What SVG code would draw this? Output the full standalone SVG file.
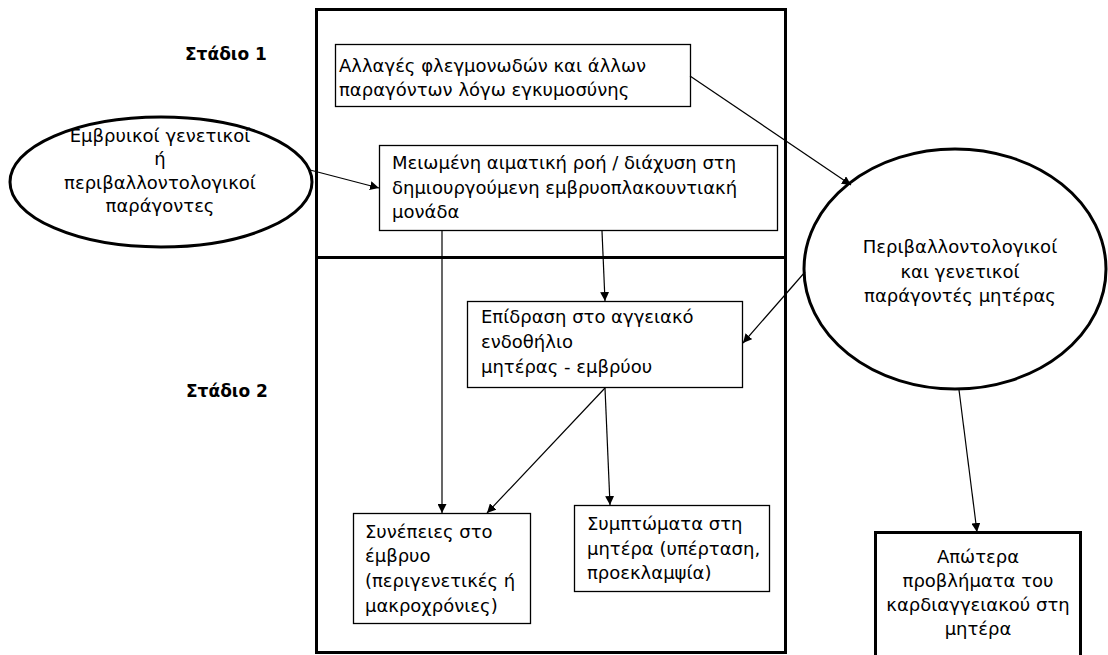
<svg xmlns="http://www.w3.org/2000/svg" width="1108" height="655" viewBox="0 0 1108 655">
<style>
text{font-family:"DejaVu Sans","Noto Sans",sans-serif;font-size:18px;fill:#000}
.b{font-weight:bold;font-size:17px}
.c{text-anchor:middle}
.box{fill:#fff;stroke:#000;stroke-width:1.3}
.thick{fill:#fff;stroke:#000;stroke-width:3}
.frame{fill:none;stroke:#000;stroke-width:3}
.conn line{stroke:#000;stroke-width:1.2;marker-end:url(#ah)}
</style>
<defs>
<marker id="ah" viewBox="0 0 10 10" refX="10" refY="5" markerWidth="9" markerHeight="9" markerUnits="userSpaceOnUse" orient="auto">
<path d="M0,0 L10,5 L0,10 z" fill="#000"/>
</marker>
</defs>
<rect width="1108" height="655" fill="#fff"/>
<g id="frame">
<rect class="frame" x="316.5" y="9.5" width="469" height="643"/>
<line class="frame" x1="316.5" y1="257.5" x2="785.5" y2="257.5"/>
</g>
<g id="labels">
<text class="b" x="185" y="60">Στάδιο 1</text>
<text class="b" x="186" y="397">Στάδιο 2</text>
</g>
<g id="n-fetal-factors">
<ellipse cx="161" cy="182" rx="151" ry="65" fill="#fff" stroke="#000" stroke-width="3"/>
<text class="c" x="160" y="142">Εμβρυικοί γενετικοί</text>
<text class="c" x="160" y="165">ή</text>
<text class="c" x="160" y="189">περιβαλλοντολογικοί</text>
<text class="c" x="160" y="212">παράγοντες</text>
</g>
<g id="n-changes">
<rect class="box" x="335.5" y="44.5" width="355" height="62"/>
<text x="339" y="72">Αλλαγές φλεγμονωδών και άλλων</text>
<text x="339" y="96">παραγόντων λόγω εγκυμοσύνης</text>
</g>
<g id="n-flow">
<rect class="box" x="379.5" y="145.5" width="398" height="85"/>
<text x="392" y="169">Μειωμένη αιματική ροή / διάχυση στη</text>
<text x="392" y="194">δημιουργούμενη εμβρυοπλακουντιακή</text>
<text x="392" y="218">μονάδα</text>
</g>
<g id="n-maternal-factors">
<ellipse cx="955" cy="269" rx="151" ry="120" fill="#fff" stroke="#000" stroke-width="3"/>
<text class="c" x="960" y="253">Περιβαλλοντολογικοί</text>
<text class="c" x="960" y="278">και γενετικοί</text>
<text class="c" x="960" y="302">παράγοντές μητέρας</text>
</g>
<g id="n-endothelium">
<rect class="box" x="467.5" y="301.5" width="275" height="86"/>
<text x="481" y="323">Επίδραση στο αγγειακό</text>
<text x="481" y="348">ενδοθήλιο</text>
<text x="481" y="373">μητέρας - εμβρύου</text>
</g>
<g id="n-fetus">
<rect class="box" x="353.5" y="513.5" width="177" height="110"/>
<text x="365" y="538">Συνέπειες στο</text>
<text x="365" y="562">έμβρυο</text>
<text x="365" y="587">(περιγενετικές ή</text>
<text x="365" y="612">μακροχρόνιες)</text>
</g>
<g id="n-symptoms">
<rect class="box" x="574.5" y="505.5" width="195" height="86"/>
<text x="587" y="530">Συμπτώματα στη</text>
<text x="587" y="555">μητέρα (υπέρταση,</text>
<text x="587" y="579">προεκλαμψία)</text>
</g>
<g id="n-longterm">
<rect class="thick" x="875.5" y="532.5" width="205" height="130"/>
<text class="c" x="978" y="563">Απώτερα</text>
<text class="c" x="978" y="587">προβλήματα του</text>
<text class="c" x="978" y="611">καρδιαγγειακού στη</text>
<text class="c" x="978" y="635">μητέρα</text>
</g>
<g id="connectors" class="conn">
<line x1="310" y1="170" x2="379" y2="188"/>
<line x1="690" y1="76" x2="851" y2="185"/>
<line x1="805" y1="272" x2="743" y2="343"/>
<line x1="442" y1="231" x2="442" y2="513"/>
<line x1="602" y1="231" x2="605" y2="301"/>
<line x1="605" y1="388" x2="487" y2="513"/>
<line x1="605" y1="388" x2="610" y2="505"/>
<line x1="959" y1="390" x2="977" y2="532"/>
</g>
</svg>
